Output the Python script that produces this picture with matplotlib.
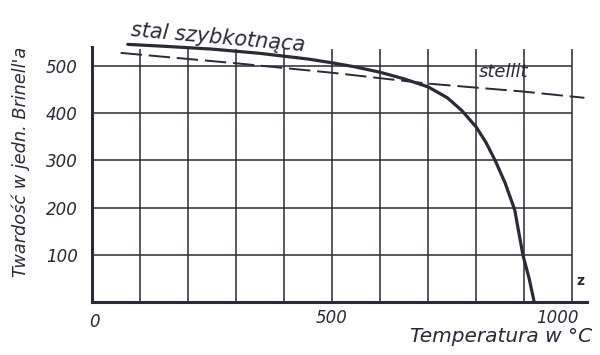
import matplotlib
matplotlib.use("Agg")
import matplotlib.pyplot as plt
import matplotlib.transforms as mtransforms

# hardness vs temperature
steel_temp = [75, 150, 250, 350, 450, 500, 550, 600, 650, 700, 740, 770, 800,
              820, 840, 860, 880, 897, 910, 920]
steel_hb = [545, 541, 535, 526, 514, 506, 497, 486, 472, 455, 432, 405, 370,
            338, 298, 252, 195, 100, 50, 3]

stellite_temp = [60, 300, 500, 700, 900, 1025]
stellite_hb = [527, 505, 485, 462, 445, 432]

x_ticks = [0, 500, 1000]
y_ticks = [100, 200, 300, 400, 500]
grid_x = list(range(100, 1001, 100))
grid_y = [100, 200, 300, 400, 500]

INK = "#2b2a36"

fig = plt.figure(figsize=(6, 3.55), dpi=100)
ax = fig.add_axes([0.153, 0.149, 0.825, 0.746])
ax.set_xlim(0, 1030)
ax.set_ylim(0, 560)

# grid drawn by hand: verticals stop a bit above 500, horizontals stop at 1000
ax.vlines(grid_x, 0, 536, color=INK, lw=1.1, zorder=1)
ax.hlines(grid_y, 0, 1000, color=INK, lw=1.1, zorder=1)

ax.plot(steel_temp, steel_hb, color=INK, lw=2.3, solid_capstyle="round", zorder=3)
ax.plot(stellite_temp, stellite_hb, color=INK, lw=1.4, dashes=(11, 3.5), zorder=2)

for side in ["top", "right"]:
    ax.spines[side].set_visible(False)
ax.spines["left"].set_bounds(0, 540)
ax.spines["left"].set_linewidth(2.2)
ax.spines["bottom"].set_linewidth(2.2)
ax.spines["left"].set_color(INK)
ax.spines["bottom"].set_color(INK)

ax.set_yticks(y_ticks)
ax.set_yticklabels([str(v) for v in y_ticks], fontsize=12, style="italic", color=INK)
ax.set_xticks(x_ticks)
ax.set_xticklabels([str(v) for v in x_ticks], fontsize=12, style="italic", color=INK)
ax.tick_params(axis="both", length=0)
ax.tick_params(axis="y", pad=10)
ax.tick_params(axis="x", pad=5)

# nudge the "0" right and "1000" left like the original
labs = ax.get_xticklabels()
labs[0].set_transform(labs[0].get_transform() +
                      mtransforms.ScaledTranslation(0.03, -0.04, fig.dpi_scale_trans))
labs[2].set_transform(labs[2].get_transform() +
                      mtransforms.ScaledTranslation(-0.15, 0, fig.dpi_scale_trans))

fig.text(0.035, 0.544, "Twardość w jedn. Brinell'a", rotation=90, fontsize=12.8,
         style="italic", color=INK, ha="center", va="center")
fig.text(0.835, 0.053, "Temperatura w °C", fontsize=14.5, style="italic",
         color=INK, ha="center", va="center")

ax.text(80, 563, "stal szybkotnąca", fontsize=15, style="italic", color=INK,
        rotation=-5, ha="left", va="baseline", rotation_mode="anchor")
ax.text(805, 487, "stellit", fontsize=13, style="italic", color=INK,
        ha="left", va="center")
ax.text(1017, 45, "z", fontsize=10, weight="bold", color=INK,
        ha="center", va="center")

fig.savefig("out.png", dpi=100, facecolor="white")
